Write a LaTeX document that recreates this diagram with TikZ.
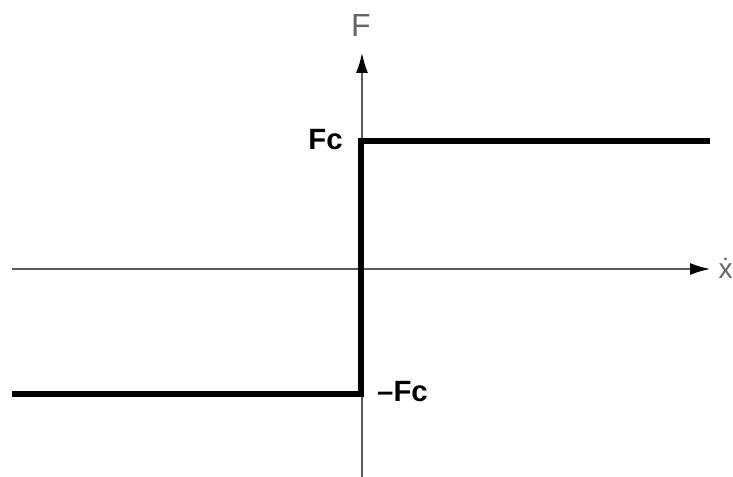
\documentclass[tikz,border=0pt]{standalone}
\usepackage{fontspec}
\setmainfont{Liberation Sans}
\usetikzlibrary{arrows.meta}

\begin{document}
\begin{tikzpicture}[x=0.75pt, y=-0.75pt,
  axis/.style={draw=black!65, line width=1.1pt, -{Latex[black,length=15pt,width=9pt]}},
  friction/.style={line width=3.8pt, line join=miter},
  axlab/.style={text=black!60, font=\fontsize{24}{26}\selectfont},
  levlab/.style={font=\fontsize{22}{24}\selectfont\bfseries}]
\useasboundingbox (0,0) rectangle (733,477);
% axes
\coordinate (xstart) at (12,269);
\coordinate (xend) at (710,269);
\coordinate (ystart) at (362,477);
\coordinate (yend) at (362,53);
\draw[axis] (xstart) -- (xend);
\draw[axis] (ystart) -- (yend);
\node[axlab] (flab) at (361,25) {F};
\node[axlab, font=\fontsize{21}{23}\selectfont, anchor=base east, inner sep=0pt] (vlab) at (733,279) {ẋ};
% Coulomb friction step
\coordinate (low) at (12,394);
\coordinate (stepbot) at (361,394);
\coordinate (steptop) at (361,141);
\coordinate (high) at (710,141);
\draw[friction] (low) -- (stepbot) -- (steptop) -- (high);
% level labels
\node[levlab] (fc) at (325.5,140) {Fc};
\node[levlab] (mfc) at (402.5,392) {–Fc};
\end{tikzpicture}
\end{document}
